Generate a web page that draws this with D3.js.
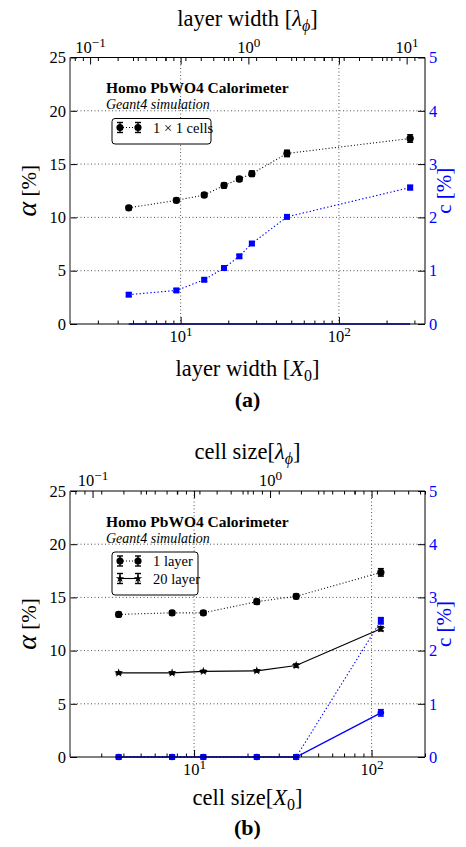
<!DOCTYPE html>
<html>
<head>
<meta charset="utf-8">
<script src="https://cdn.jsdelivr.net/npm/d3@7/dist/d3.min.js"></script>
<style>
  html, body { margin: 0; padding: 0; background: #fff; }
  svg { display: block; font-family: "Liberation Serif", "DejaVu Serif", serif; }
  svg text { font-family: "Liberation Serif", "DejaVu Serif", serif; }
</style>
</head>
<body>
<svg id="chart" width="466" height="847"></svg>
<script>
// ---- Panel (a): resolution terms vs. layer width, 1x1 cells ----
const layerWidthX0 = [4.7, 9.4, 14.1, 18.8, 23.5, 28.2, 47, 282];
const alphaCells = [10.9, 11.6, 12.1, 13.0, 13.6, 14.1, 16.0, 17.4];
const alphaCellsErr = [0.2, 0.2, 0.2, 0.22, 0.22, 0.25, 0.3, 0.35];
const cCells = [0.55, 0.63, 0.83, 1.05, 1.27, 1.51, 2.01, 2.56];
const cCellsErr = [0.03, 0.03, 0.03, 0.03, 0.03, 0.03, 0.03, 0.04];
const cCellsFloor = [0, 0, 0, 0, 0, 0, 0, 0];

// ---- Panel (b): resolution terms vs. cell size, 1 and 20 layers ----
const cellSizeX0 = [3.76, 7.52, 11.28, 22.56, 37.6, 112.8];
const alphaOneLayer = [13.4, 13.55, 13.55, 14.6, 15.1, 17.35];
const alphaOneLayerErr = [0.2, 0.2, 0.2, 0.22, 0.22, 0.35];
const alphaTwentyLayer = [7.9, 7.9, 8.05, 8.1, 8.6, 12.05];
const alphaTwentyLayerErr = [0.1, 0.1, 0.1, 0.1, 0.15, 0.2];
const cOneLayer = [0, 0, 0, 0, 0, 2.56];
const cOneLayerErr = [0, 0, 0, 0, 0, 0.06];
const cTwentyLayer = [0, 0, 0, 0, 0, 0.83];
const cTwentyLayerErr = [0, 0, 0, 0, 0, 0.06];

// ---- Axis ticks ----
const alphaTicks = [0, 5, 10, 15, 20, 25];
const cTicks = [0, 1, 2, 3, 4, 5];
const alphaGrid = [5, 10, 15, 20];
const x0Majors = [10, 100];
const lambdaMajors = [0.1, 1, 10];
const X0_PER_LAMBDA = 26.8;

const BLUE = "#0000ff";
const SERIF = "'Liberation Serif', 'DejaVu Serif', serif";
const svg = d3.select("#chart");

function powerLabel(textSel, v) {
  const e = Math.round(Math.log10(v));
  textSel.text(null);
  textSel.append("tspan").text("10");
  textSel.append("tspan").attr("dy", "-0.45em").attr("font-size", "0.8em")
    .text(e < 0 ? "\u2212" + Math.abs(e) : String(e));
}

function drawPanel(cfg) {
  const L = 70, R = 425, T = cfg.top, B = cfg.bottom;
  const g = svg.append("g");

  const x = d3.scaleLog().domain(cfg.xDomain).range([L, R]);
  const xl = d3.scaleLog().domain(cfg.xDomain.map(d => d / X0_PER_LAMBDA)).range([L, R]);
  const y = d3.scaleLinear().domain([0, 25]).range([B, T]);
  const yc = d3.scaleLinear().domain([0, 5]).range([B, T]);

  // grid
  const grid = g.append("g").attr("stroke", "#000").attr("stroke-width", 0.9)
    .attr("stroke-dasharray", "1,2.5").attr("opacity", 0.75);
  grid.selectAll("line.h").data(alphaGrid).join("line")
    .attr("x1", L).attr("x2", R).attr("y1", d => y(d)).attr("y2", d => y(d));
  grid.selectAll("line.v").data(x0Majors).join("line")
    .attr("x1", d => x(d)).attr("x2", d => x(d)).attr("y1", T).attr("y2", B);

  const minorOf = (sc, majors) => sc.ticks().filter(v => !majors.some(m => Math.abs(v - m) < 1e-9 * m));

  // bottom X0 axis (ticks point inwards)
  const bx = g.append("g").attr("transform", `translate(0,${B})`)
    .call(d3.axisBottom(x).tickValues(x0Majors).tickSize(-7).tickPadding(6).tickFormat(d => d));
  bx.selectAll(".tick text").each(function (d) { powerLabel(d3.select(this), d); });
  g.append("g").attr("transform", `translate(0,${B})`)
    .call(d3.axisBottom(x).tickValues(minorOf(x, x0Majors)).tickSize(-3.5).tickFormat(""));
  // the X0 ticks are mirrored on the top edge
  g.append("g").attr("transform", `translate(0,${T})`)
    .call(d3.axisTop(x).tickValues(x0Majors).tickSize(-7).tickFormat(""));
  g.append("g").attr("transform", `translate(0,${T})`)
    .call(d3.axisTop(x).tickValues(minorOf(x, x0Majors)).tickSize(-3.5).tickFormat(""));

  // top lambda axis
  const tx = g.append("g").attr("transform", `translate(0,${T})`)
    .call(d3.axisTop(xl).tickValues(lambdaMajors.filter(v => xl(v) >= L - 1 && xl(v) <= R + 1))
      .tickSize(-7).tickPadding(5).tickFormat(d => d));
  tx.selectAll(".tick text").each(function (d) { powerLabel(d3.select(this), d); });
  g.append("g").attr("transform", `translate(0,${T})`)
    .call(d3.axisTop(xl).tickValues(minorOf(xl, lambdaMajors)).tickSize(-3.5).tickFormat(""));

  // left alpha axis
  const ly = g.append("g").attr("transform", `translate(${L},0)`)
    .call(d3.axisLeft(y).tickValues(alphaTicks).tickSize(-7).tickPadding(4).tickFormat(d3.format("d")));

  // right c axis
  const ry = g.append("g").attr("transform", `translate(${R},0)`)
    .call(d3.axisRight(yc).tickValues(cTicks).tickSize(-7).tickPadding(4).tickFormat(d3.format("d")));
  ry.selectAll(".tick text").attr("fill", BLUE);

  [bx, tx, ly, ry].forEach(a => {
    a.attr("font-family", SERIF).attr("font-size", 16.5);
    a.selectAll(".tick text").attr("font-size", 16.5).style("font-family", SERIF);
  });
  g.selectAll(".domain").remove();
  g.selectAll(".tick line").attr("stroke", "#000");

  // series
  cfg.series.forEach(s => {
    const sc = s.axis === "c" ? yc : y;
    const pts = s.x.map((xv, i) => ({ x: xv, v: s.v[i], e: s.e ? s.e[i] : 0 }));
    g.append("path").datum(pts)
      .attr("fill", "none").attr("stroke", s.color).attr("stroke-width", s.width || 1.1)
      .attr("stroke-dasharray", s.dash || null)
      .attr("d", d3.line().x(d => x(d.x)).y(d => sc(d.v)));
    if (s.e) {
      const eb = g.append("g").attr("stroke", s.color).attr("stroke-width", 1.5);
      pts.filter(d => d.e > 0).forEach(d => {
        const cx = x(d.x);
        eb.append("line").attr("x1", cx).attr("x2", cx).attr("y1", sc(d.v - d.e)).attr("y2", sc(d.v + d.e));
        [d.v - d.e, d.v + d.e].forEach(w => eb.append("line")
          .attr("x1", cx - 3).attr("x2", cx + 3).attr("y1", sc(w)).attr("y2", sc(w)));
      });
    }
    if (s.marker) {
      g.append("g").selectAll("path").data(pts).join("path")
        .attr("transform", d => `translate(${x(d.x)},${sc(d.v)})`)
        .attr("d", d3.symbol().type(s.marker).size(s.size || 40))
        .attr("fill", s.color);
    }
  });

  // frame
  g.append("line").attr("x1", L).attr("x2", R).attr("y1", T).attr("y2", T).attr("stroke", "#000");
  g.append("line").attr("x1", L).attr("x2", R).attr("y1", B).attr("y2", B).attr("stroke", "#000");
  g.append("line").attr("x1", R).attr("x2", R).attr("y1", T).attr("y2", B).attr("stroke", "#000");
  g.append("line").attr("x1", L).attr("x2", L).attr("y1", T).attr("y2", B).attr("stroke", "#6e6e6e").attr("stroke-width", 1.6);

  // header text
  g.append("text").attr("x", 106).attr("y", T + 35.5).attr("font-size", 15.5).attr("font-weight", "bold")
    .text("Homo PbWO4 Calorimeter");
  g.append("text").attr("x", 106).attr("y", T + 51.5).attr("font-size", 14).attr("font-style", "italic")
    .text("Geant4 simulation");

  // legend
  const lg = g.append("g");
  const rows = cfg.legend;
  const lt = T + 61;
  const lh = 8 + rows.length * 17.5;
  lg.append("rect").attr("x", 112).attr("y", lt).attr("width", cfg.legendWidth).attr("height", lh)
    .attr("rx", 3).attr("fill", "#fff").attr("stroke", "#000").attr("stroke-width", 1);
  rows.forEach((r, i) => {
    const cy = lt + 9 + i * 17.5;
    lg.append("line").attr("x1", 120).attr("x2", 138).attr("y1", cy).attr("y2", cy)
      .attr("stroke", "#000").attr("stroke-width", 1.1).attr("stroke-dasharray", r.dash || null);
    [120, 138].forEach(cx => {
      lg.append("line").attr("x1", cx).attr("x2", cx).attr("y1", cy - 5).attr("y2", cy + 5)
        .attr("stroke", "#000").attr("stroke-width", 1.4);
      [cy - 5, cy + 5].forEach(w => lg.append("line").attr("x1", cx - 3).attr("x2", cx + 3)
        .attr("y1", w).attr("y2", w).attr("stroke", "#000").attr("stroke-width", 1.4));
      lg.append("path").attr("transform", `translate(${cx},${cy})`)
        .attr("d", d3.symbol().type(r.marker).size(r.size)).attr("fill", "#000");
    });
    lg.append("text").attr("x", 153).attr("y", cy + 5).attr("font-size", 14.5).text(r.label);
  });

  // axis titles
  const top = g.append("text").attr("x", (L + R) / 2).attr("y", T - 32).attr("text-anchor", "middle")
    .attr("font-size", 22.5);
  top.append("tspan").text(cfg.xTitle + (cfg.titleSpace ? " [" : "["));
  top.append("tspan").attr("font-style", "italic").text("\u03bb");
  top.append("tspan").attr("font-style", "italic").attr("font-size", 16).attr("dy", 5).text("\u03d5");
  top.append("tspan").attr("dy", -5).text("]");

  const bot = g.append("text").attr("x", (L + R) / 2).attr("y", B + cfg.bottomTitleOffset)
    .attr("text-anchor", "middle").attr("font-size", 22.5);
  bot.append("tspan").text(cfg.xTitle + (cfg.titleSpace ? " [" : "["));
  bot.append("tspan").attr("font-style", "italic").text("X");
  bot.append("tspan").attr("font-size", 16).attr("dy", 5).text("0");
  bot.append("tspan").attr("dy", -5).text("]");

  g.append("text").attr("x", (L + R) / 2).attr("y", B + cfg.bottomTitleOffset + cfg.tagOffset)
    .attr("text-anchor", "middle").attr("font-size", 22).attr("font-weight", "bold").text(cfg.tag);

  const mid = (T + B) / 2;
  const al = g.append("text").attr("transform", `translate(36,${mid}) rotate(-90)`)
    .attr("text-anchor", "middle").attr("font-size", 21);
  al.append("tspan").attr("font-style", "italic").attr("font-size", 28).text("\u03b1");
  al.append("tspan").text(" [%]");

  g.append("text").attr("transform", `translate(451,${mid}) rotate(-90)`)
    .attr("text-anchor", "middle").attr("font-size", 21).attr("fill", BLUE).text("c [%]");
}

drawPanel({
  top: 57.5, bottom: 324, xDomain: [2, 350], xTitle: "layer width", titleSpace: true,
  bottomTitleOffset: 52, tagOffset: 31, tag: "(a)", legendWidth: 99,
  legend: [{ label: "1 \u00d7 1 cells", marker: d3.symbolCircle, size: 40, dash: "1,2" }],
  series: [
    { x: layerWidthX0, v: cCellsFloor, axis: "c", color: BLUE, width: 1.6 },
    { x: layerWidthX0, v: alphaCells, e: alphaCellsErr, color: "#000", dash: "1,2.2", marker: d3.symbolCircle, size: 42 },
    { x: layerWidthX0, v: cCells, e: cCellsErr, axis: "c", color: BLUE, dash: "1.4,2.2", marker: d3.symbolSquare, size: 36 }
  ]
});

drawPanel({
  top: 491, bottom: 757, xDomain: [2, 200], xTitle: "cell size", titleSpace: false,
  bottomTitleOffset: 48, tagOffset: 30, tag: "(b)", legendWidth: 86,
  legend: [
    { label: "1 layer", marker: d3.symbolCircle, size: 40, dash: "1,2" },
    { label: "20 layer", marker: d3.symbolStar, size: 22 }
  ],
  series: [
    { x: cellSizeX0, v: alphaOneLayer, e: alphaOneLayerErr, color: "#000", dash: "1,2.2", marker: d3.symbolCircle, size: 42 },
    { x: cellSizeX0, v: alphaTwentyLayer, e: alphaTwentyLayerErr, color: "#000", width: 1.2, marker: d3.symbolStar, size: 24 },
    { x: cellSizeX0, v: cOneLayer, e: cOneLayerErr, axis: "c", color: BLUE, dash: "1.4,2.2", marker: d3.symbolSquare, size: 36 },
    { x: cellSizeX0, v: cTwentyLayer, e: cTwentyLayerErr, axis: "c", color: BLUE, width: 1.4, marker: d3.symbolCircle, size: 34 }
  ]
});
</script>
</body>
</html>
